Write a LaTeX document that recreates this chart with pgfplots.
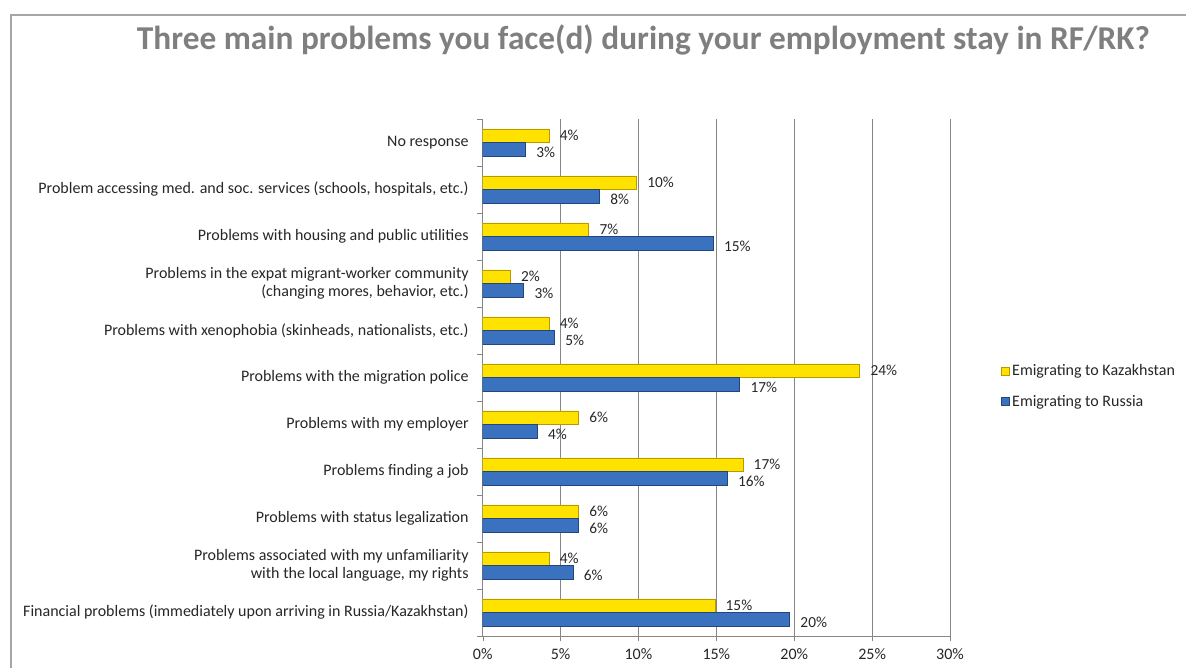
\documentclass[border=0pt]{standalone}
\usepackage{pgfplots}
\pgfplotsset{compat=1.18}
\usepackage{fontspec}
\setmainfont{Carlito}
\definecolor{kyellow}{RGB}{255,226,0}
\definecolor{kyedge}{RGB}{185,152,0}
\definecolor{rblue}{RGB}{58,114,192}
\definecolor{rbedge}{RGB}{35,70,125}
\definecolor{titlegray}{RGB}{127,127,127}
\definecolor{axgray}{RGB}{134,134,134}
\definecolor{txt}{RGB}{38,38,38}
\begin{document}
\begin{tikzpicture}
\useasboundingbox (0,0) rectangle (889.5pt,501pt);
\draw[color=black!35, line width=0.8pt] (8.25pt,0) -- (8.25pt,489.75pt) -- (889.5pt,489.75pt);
\node[font=\fontsize{25}{28}\selectfont\bfseries, text=titlegray] at (482.6pt,471pt) {Three main problems you face(d) during your employment stay in RF/RK?};
\begin{axis}[
  at={(362pt,24pt)}, anchor=south west,
  scale only axis, width=350.5pt, height=387.75pt,
  xbar, bar width=0.29,
  xmin=0, xmax=30, ymin=-0.5, ymax=10.5,
  xtick={0,5,...,30},
  xticklabel={\pgfmathprintnumber{\tick}\%},
  /pgf/number format/assume math mode=true,
  ytick={0,...,10},
  yticklabels={Financial problems (immediately upon arriving in Russia/Kazakhstan),
    {Problems associated with my unfamiliarity\\with the local language, my rights},
    Problems with status legalization,
    Problems finding a job,
    Problems with my employer,
    Problems with the migration police,
    {Problems with xenophobia (skinheads, nationalists, etc.)},
    {Problems in the expat migrant-worker community\\(changing mores, behavior, etc.)},
    Problems with housing and public utilities,
    {Problem accessing med. and soc. services (schools, hospitals, etc.)},
    No response},
  minor ytick={-0.5,0.5,...,10.5},
  major y tick style={draw=none},
  minor y tick style={axgray},
  minor tick length=4pt,
  tick align=outside,
  x tick style={axgray}, major tick length=4pt,
  xmajorgrids, grid style={axgray, line width=0.6pt},
  axis x line*=bottom, axis y line*=left,
  axis line style={axgray, line width=0.6pt},
  tick label style={font=\fontsize{12}{13.5}\selectfont, text=txt},
  yticklabel style={align=right, xshift=-3pt},
  xticklabel style={yshift=-2pt},
  every node near coord/.append style={font=\fontsize{11.5}{12}\selectfont, text=txt, anchor=west, xshift=8pt, inner sep=0pt},
  nodes near coords={\pgfplotspointmeta},
  point meta=explicit symbolic,
  legend style={at={(1.10,0.483)}, anchor=west, draw=none, fill=none,
    font=\fontsize{12}{13.5}\selectfont, text=txt, row sep=9pt},
  legend cell align=left,
  legend image code/.code={\draw[#1] (0pt,-3pt) rectangle (6pt,3pt);},
]
\addplot[fill=kyellow, draw=kyedge, bar shift=0.145,
  every node near coord/.append style={yshift=0pt}] coordinates {
  (14.9,0) [15\%] (4.25,1) [4\%] (6.15,2) [6\%] (16.7,3) [17\%] (6.15,4) [6\%]
  (24.2,5) [24\%] (4.25,6) [4\%] (1.77,7) [2\%] (6.8,8) [7\%] (9.87,9) [10\%] (4.25,10) [4\%]};
\addlegendentry{Emigrating to Kazakhstan}
\addplot[fill=rblue, draw=rbedge, bar shift=-0.145,
  every node near coord/.append style={yshift=-2pt}] coordinates {
  (19.7,0) [20\%] (5.8,1) [6\%] (6.15,2) [6\%] (15.7,3) [16\%] (3.5,4) [4\%]
  (16.5,5) [17\%] (4.6,6) [5\%] (2.63,7) [3\%] (14.8,8) [15\%] (7.5,9) [8\%] (2.75,10) [3\%]};
\addlegendentry{Emigrating to Russia}
\end{axis}
\end{tikzpicture}
\end{document}
